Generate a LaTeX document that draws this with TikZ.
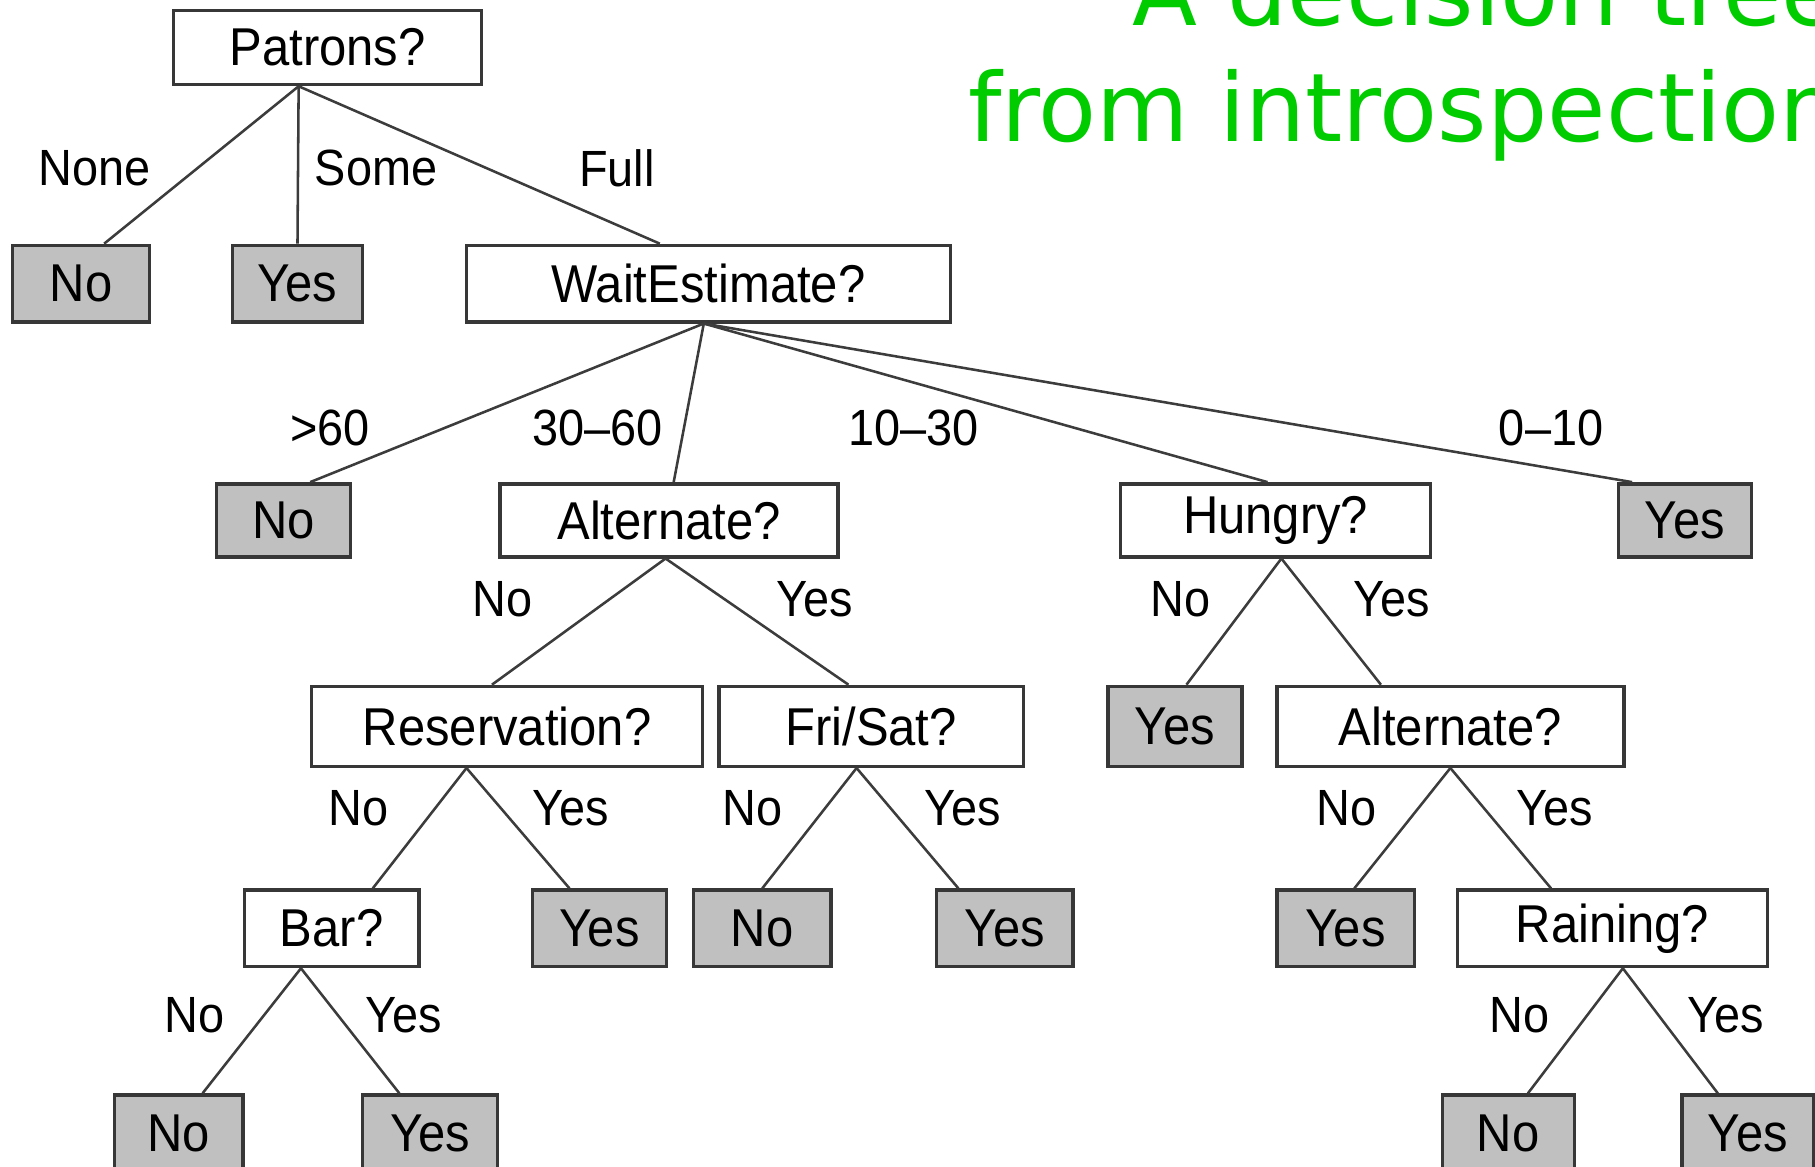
\documentclass[tikz,border=0pt]{standalone}
\usepackage{fontspec}
\usetikzlibrary{calc}
\newfontfamily\boxfont{Liberation Sans}[FakeStretch=0.92, Ligatures=TeX]
\newfontfamily\titlefont{DejaVu Sans}
\definecolor{titlegreen}{RGB}{0,204,0}
\definecolor{leafgray}{RGB}{192,192,192}
\definecolor{edgegray}{RGB}{60,60,60}
\definecolor{rimgray}{RGB}{55,55,55}

\tikzset{
  treebox/.style={draw=rimgray, line width=1.5pt, inner sep=0pt,
    font=\boxfont\fontsize{23}{27}\selectfont, text=black},
  question/.style={treebox, fill=white},
  leaf/.style={treebox, fill=leafgray},
  conn/.style={draw=edgegray, line width=1.1pt},
  branchlabel/.style={inner sep=0pt, font=\boxfont\fontsize{22}{26}\selectfont},
  titletext/.style={inner sep=0pt, text=titlegreen,
    font=\titlefont\fontsize{41}{50}\selectfont, anchor=base east}
}
% connector from a parent's lower edge to a child's upper edge (offsets in px)
\newcommand\branch[4]{\draw[conn] ($(#1.south)+(#2,0)$) -- ($(#3.north)+(#4,0)$);}

\begin{document}
\begin{tikzpicture}[x=0.5pt, y=-0.5pt]
\useasboundingbox (0,0) rectangle (1568,1008);
\clip (0,0) rectangle (1568,1008);

% title
\node[titletext] (title1) at (1590,22) {A decision tree};
\node[titletext] (title2) at (1590,122) {from introspection};

% level 0
\node[question, minimum width=133pt, minimum height=32pt] (patrons) at (283,41) {Patrons?};

% level 1
\node[leaf, minimum width=59pt, minimum height=33pt] (n1) at (70,245) {No};
\node[leaf, minimum width=56pt, minimum height=33pt] (y1) at (257,245) {Yes};
\node[question, minimum width=209pt, minimum height=33pt] (wait) at (612,245) {WaitEstimate?};

% level 2
\node[leaf, minimum width=58pt, minimum height=31.5pt] (n2) at (245,449.5) {No};
\node[question, minimum width=146pt, minimum height=31.5pt] (alt1) at (578,449.5) {Alternate?};
\node[question, minimum width=134pt, minimum height=31.5pt] (hungry) at (1102,449.5) {Hungry?};
\node[leaf, minimum width=57.5pt, minimum height=31.5pt] (y2) at (1455.5,449.5) {Yes};

% level 3
\node[question, minimum width=169pt, minimum height=34.5pt] (res) at (438,627.5) {Reservation?};
\node[question, minimum width=131.5pt, minimum height=34.5pt] (fri) at (752.5,627.5) {Fri/Sat?};
\node[leaf, minimum width=58pt, minimum height=34.5pt] (y3) at (1015,627.5) {Yes};
\node[question, minimum width=150pt, minimum height=34.5pt] (alt2) at (1253,627.5) {Alternate?};

% level 4
\node[question, minimum width=75.5pt, minimum height=33pt] (bar) at (286.5,802) {Bar?};
\node[leaf, minimum width=58pt, minimum height=33pt] (y4a) at (518,802) {Yes};
\node[leaf, minimum width=59.5pt, minimum height=33pt] (n4) at (658.5,802) {No};
\node[leaf, minimum width=59pt, minimum height=33pt] (y4b) at (868,802) {Yes};
\node[leaf, minimum width=59.5pt, minimum height=33pt] (y4c) at (1162.5,802) {Yes};
\node[question, minimum width=134pt, minimum height=33pt] (rain) at (1393,802) {Raining?};

% level 5
\node[leaf, minimum width=55.5pt, minimum height=33pt] (n5a) at (154.5,979) {No};
\node[leaf, minimum width=58.5pt, minimum height=33pt] (y5a) at (371.5,979) {Yes};
\node[leaf, minimum width=57pt, minimum height=33pt] (n5b) at (1303,979) {No};
\node[leaf, minimum width=57pt, minimum height=33pt] (y5b) at (1510,979) {Yes};

% connectors
\branch{patrons}{-25}{n1}{20}
\branch{patrons}{-25}{y1}{0}
\branch{patrons}{-25}{wait}{-42}
\branch{wait}{-4}{n2}{23}
\branch{wait}{-4}{alt1}{4}
\branch{wait}{-4}{hungry}{-7}
\branch{wait}{-4}{y2}{-45.5}
\branch{alt1}{-3}{res}{-13}
\branch{alt1}{-3}{fri}{-19.5}
\branch{hungry}{5}{y3}{10}
\branch{hungry}{5}{alt2}{-60}
\branch{res}{-35}{bar}{35.5}
\branch{res}{-35}{y4a}{-26}
\branch{fri}{-12.5}{n4}{0}
\branch{fri}{-12.5}{y4b}{-40}
\branch{alt2}{0}{y4c}{7.5}
\branch{alt2}{0}{rain}{-53}
\branch{bar}{-26.5}{n5a}{20.5}
\branch{bar}{-26.5}{y5a}{-26.5}
\branch{rain}{9}{n5b}{17}
\branch{rain}{9}{y5b}{-26}

% branch labels
\node[branchlabel] (lNone) at (82,145) {None};
\node[branchlabel] (lSome) at (325,145) {Some};
\node[branchlabel] (lFull) at (533,145) {Full};
\node[branchlabel] (lgt60) at (285,370) {>60};
\node[branchlabel] (l3060) at (516,370) {30–60};
\node[branchlabel] (l1030) at (789,370) {10–30};
\node[branchlabel] (l010) at (1340,370) {0–10};
\node[branchlabel] (la1n) at (434,518) {No};
\node[branchlabel] (la1y) at (704,518) {Yes};
\node[branchlabel] (lhn) at (1020,518) {No};
\node[branchlabel] (lhy) at (1202,518) {Yes};
\node[branchlabel] (lrn) at (310,698) {No};
\node[branchlabel] (lry) at (493,698) {Yes};
\node[branchlabel] (lfn) at (650,698) {No};
\node[branchlabel] (lfy) at (832,698) {Yes};
\node[branchlabel] (la2n) at (1163,698) {No};
\node[branchlabel] (la2y) at (1343,698) {Yes};
\node[branchlabel] (lbn) at (168,877) {No};
\node[branchlabel] (lby) at (349,877) {Yes};
\node[branchlabel] (lrnn) at (1313,877) {No};
\node[branchlabel] (lrny) at (1491,877) {Yes};
\end{tikzpicture}
\end{document}
